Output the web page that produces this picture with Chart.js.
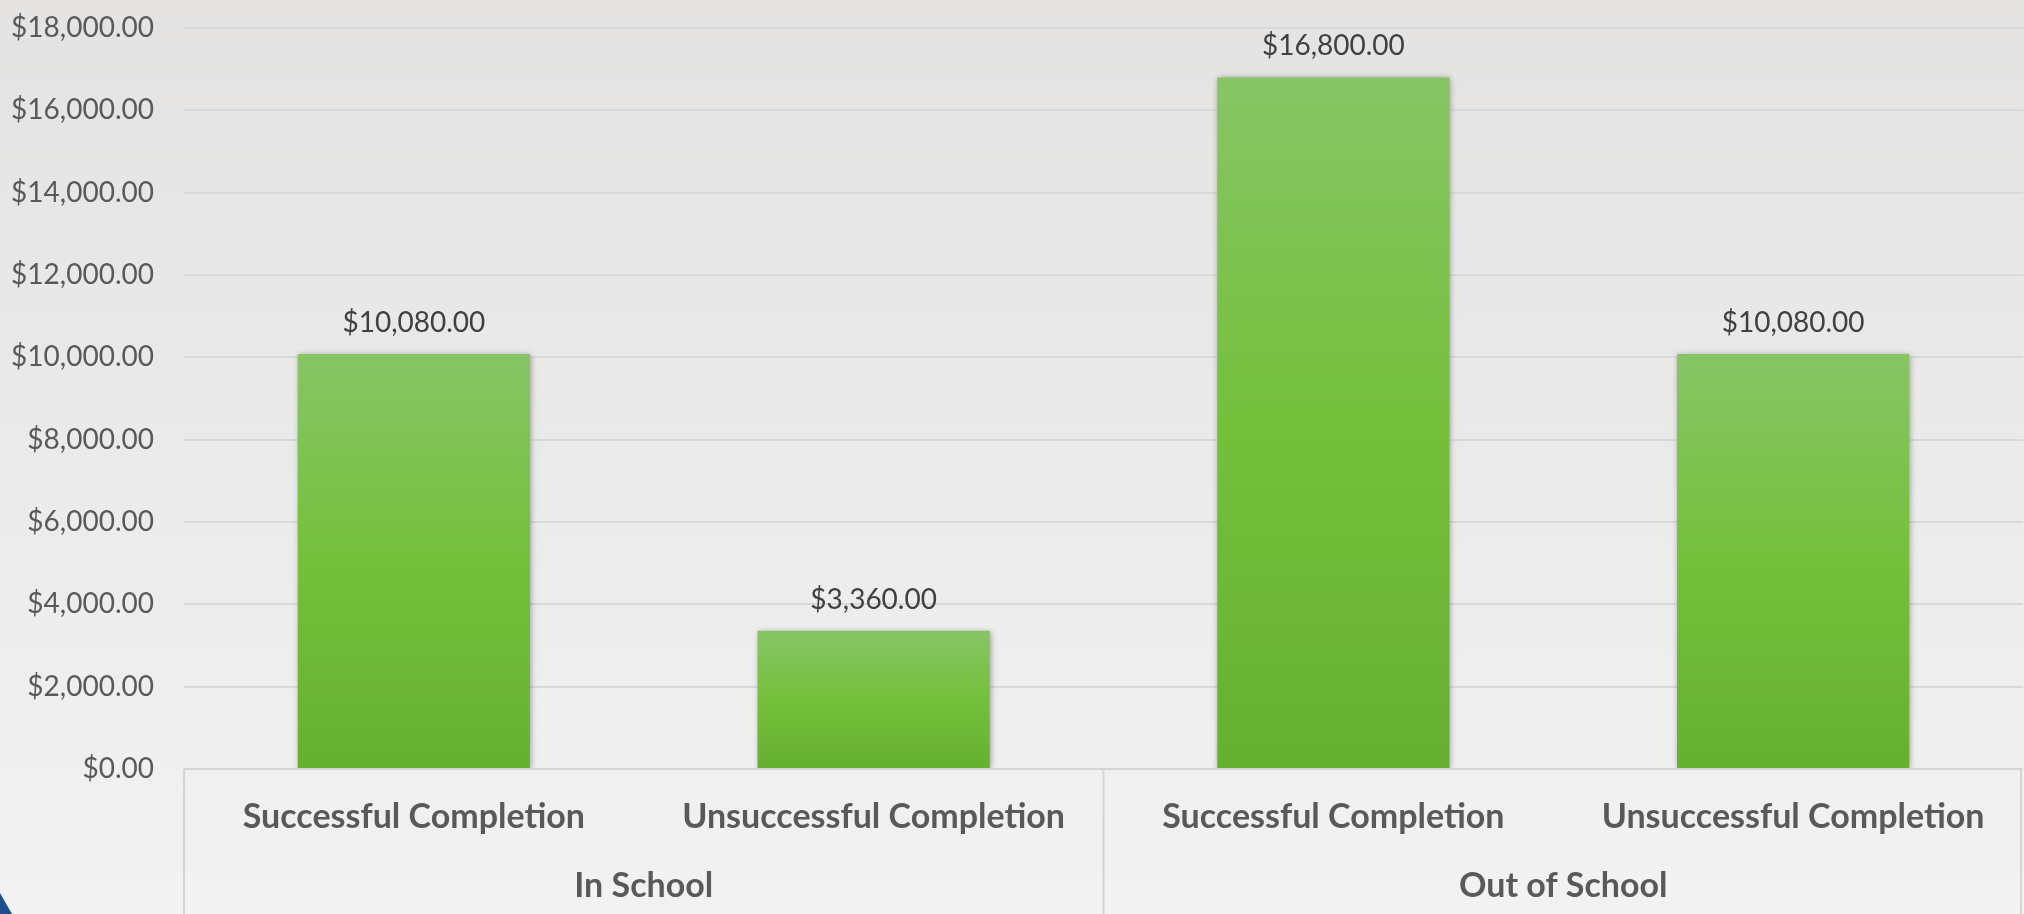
<!DOCTYPE html>
<html>
<head>
<meta charset="utf-8">
<script src="https://cdn.jsdelivr.net/npm/chart.js@4"></script>
<style>
  html, body { margin: 0; padding: 0; background: #eaeaea; }
  #wrap { width: 2024px; height: 914px; position: relative; }
</style>
</head>
<body>
<div id="wrap"><canvas id="myChart" width="2024" height="914"></canvas></div>
<script>
// data
var categories = ['Successful Completion', 'Unsuccessful Completion', 'Successful Completion', 'Unsuccessful Completion'];
var groups = ['In School', 'Out of School'];
var groupSize = 2;
var costs = [10080, 3360, 16800, 10080];
var yMax = 18000;
var yStep = 2000;

var FONT = 'Lato, "Open Sans", sans-serif';

function money(v) {
    return '$' + Number(v).toLocaleString('en-US', { minimumFractionDigits: 2, maximumFractionDigits: 2 });
}

// slide-like background with a light vertical gradient
var backgroundPlugin = {
    id: 'bg',
    beforeDraw: function (chart) {
        var c = chart.ctx;
        var g = c.createLinearGradient(0, 0, 0, chart.height);
        g.addColorStop(0, '#e4e3e2');
        g.addColorStop(1, '#f2f2f2');
        c.save();
        c.fillStyle = g;
        c.fillRect(0, 0, chart.width, chart.height);
        // little blue corner from the slide frame
        c.fillStyle = '#1f4e8c';
        c.beginPath();
        c.moveTo(0, 893);
        c.lineTo(12, chart.height);
        c.lineTo(0, chart.height);
        c.closePath();
        c.fill();
        c.restore();
    }
};

// soft shadow under the bars
var shadowPlugin = {
    id: 'barShadow',
    beforeDatasetsDraw: function (chart) {
        var c = chart.ctx;
        c.save();
        c.shadowColor = 'rgba(0,0,0,0.35)';
        c.shadowBlur = 6;
        c.shadowOffsetX = 1;
        c.shadowOffsetY = 1;
    },
    afterDatasetsDraw: function (chart) {
        chart.ctx.restore();
    }
};

// value labels above bars
var valueLabels = {
    id: 'valueLabels',
    afterDatasetsDraw: function (chart) {
        var c = chart.ctx;
        var meta = chart.getDatasetMeta(0);
        c.save();
        c.font = '28px ' + FONT;
        c.fillStyle = '#404040';
        c.textAlign = 'center';
        c.textBaseline = 'middle';
        meta.data.forEach(function (bar, i) {
            c.fillText(money(chart.data.datasets[0].data[i]), bar.x, bar.y - 31);
        });
        c.restore();
    }
};

// category axis box lines and group labels
var groupAxis = {
    id: 'groupAxis',
    afterDraw: function (chart) {
        var c = chart.ctx;
        var x = chart.scales.x;
        var area = chart.chartArea;
        var step = (area.right - area.left) / categories.length;
        c.save();
        c.strokeStyle = '#d4d4d4';
        c.lineWidth = 2;
        c.beginPath();
        c.moveTo(area.left, area.bottom);
        c.lineTo(area.right - 2, area.bottom);
        for (var g = 0; g <= groups.length; g++) {
            var px = area.left + g * groupSize * step;
            if (g === groups.length) px = area.right - 2;
            c.moveTo(px, area.bottom);
            c.lineTo(px, chart.height);
        }
        c.stroke();

        c.font = 'bold 34px ' + FONT;
        c.fillStyle = '#595959';
        c.textAlign = 'center';
        c.textBaseline = 'middle';
        groups.forEach(function (name, g) {
            var a = x.getPixelForValue(g * groupSize);
            var b = x.getPixelForValue(g * groupSize + groupSize - 1);
            c.fillText(name, (a + b) / 2, 886);
        });
        c.restore();
    }
};

function barGradient(context) {
    var chart = context.chart;
    if (!chart.chartArea || context.parsed === undefined) return '#74bf3b';
    var y = chart.scales.y;
    var top = y.getPixelForValue(context.parsed.y);
    var bottom = y.getPixelForValue(0);
    var g = chart.ctx.createLinearGradient(0, top, 0, bottom);
    g.addColorStop(0, '#87c565');
    g.addColorStop(0.5, '#74c03b');
    g.addColorStop(1, '#66b030');
    return g;
}

var ctx = document.getElementById('myChart').getContext('2d');

var myChart = new Chart(ctx, {
    type: 'bar',
    data: {
        labels: categories,
        datasets: [{
            label: 'Cost',
            data: costs,
            backgroundColor: barGradient,
            borderWidth: 0,
            categoryPercentage: 1,
            barPercentage: 0.505
        }]
    },
    options: {
        responsive: false,
        animation: false,
        layout: { padding: { top: 28, right: 1, bottom: 0, left: 0 } },
        plugins: {
            legend: { display: false },
            tooltip: { enabled: false }
        },
        scales: {
            y: {
                min: 0,
                max: yMax,
                border: { display: false },
                grid: {
                    color: '#d9d9d9',
                    lineWidth: 2,
                    drawTicks: false
                },
                ticks: {
                    stepSize: yStep,
                    padding: 30,
                    color: '#595959',
                    font: { family: FONT, size: 28 },
                    callback: function (v) { return money(v); }
                },
                afterFit: function (scale) {
                    scale.width = 184;
                    // the tick padding should not push the plot area down
                    scale.paddingTop = 0;
                    scale.paddingBottom = 0;
                }
            },
            x: {
                border: { display: false },
                grid: { display: false },
                ticks: {
                    color: '#595959',
                    padding: 20,
                    maxRotation: 0,
                    autoSkip: false,
                    font: { family: FONT, size: 34, weight: 'bold' }
                },
                afterFit: function (scale) { scale.height = 145; }
            }
        }
    },
    plugins: [backgroundPlugin, shadowPlugin, valueLabels, groupAxis]
});
</script>
</body>
</html>
